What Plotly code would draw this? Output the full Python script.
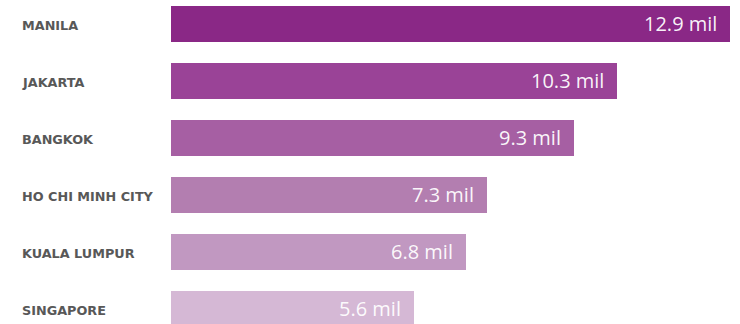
import plotly.graph_objects as go

# Metro population, millions
cities = ["MANILA", "JAKARTA", "BANGKOK", "HO CHI MINH CITY", "KUALA LUMPUR", "SINGAPORE"]
population = [12.9, 10.3, 9.3, 7.3, 6.8, 5.6]
value_labels = ["12.9 mil", "10.3 mil", "9.3 mil", "7.3 mil", "6.8 mil", "5.6 mil"]
bar_colors = ["#8a2886", "#9a4397", "#a65fa3", "#b37eb0", "#c198c1", "#d5b8d5"]

W, H = 740, 324
left = 171
plot_w = W - left
px_per_unit = 43.33

fig = go.Figure(
    go.Bar(
        x=population,
        y=list(range(len(cities))),
        orientation="h",
        marker=dict(color=bar_colors, line=dict(width=0)),
        width=0.64,
        hoverinfo="skip",
    )
)

annotations = []
for i, (city, val, lab) in enumerate(zip(cities, population, value_labels)):
    annotations.append(dict(
        x=(20 - left) / plot_w, xref="paper", y=i, yref="y",
        text=city, showarrow=False, xanchor="left", yanchor="middle",
        font=dict(family="DejaVu Sans", size=12.8, weight=700, color="#585858"),
        yshift=-1,
    ))
    annotations.append(dict(
        x=val, xref="x", y=i, yref="y",
        text=lab, showarrow=False, xanchor="right", yanchor="middle",
        xshift=-11, yshift=1,
        font=dict(family="Open Sans", size=20, color="rgba(255,255,255,0.95)"),
    ))

fig.update_layout(
    width=W, height=H,
    margin=dict(l=left, r=0, t=0, b=0),
    paper_bgcolor="white", plot_bgcolor="white",
    showlegend=False,
    xaxis=dict(range=[0, plot_w / px_per_unit], visible=False, fixedrange=True),
    yaxis=dict(range=[5.263, -0.421], visible=False, fixedrange=True),
    annotations=annotations,
    bargap=0,
)

fig.write_html("out.html", config={"displayModeBar": False})
